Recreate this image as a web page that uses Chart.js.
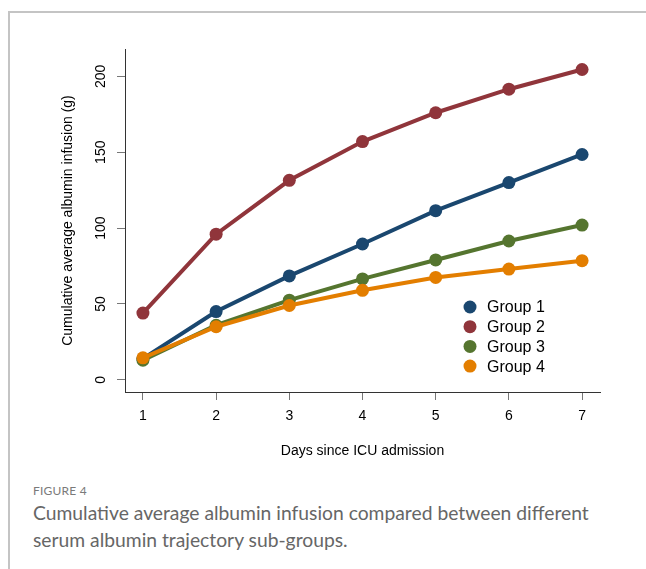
<!DOCTYPE html>
<html>
<head>
<meta charset="utf-8">
<script src="https://cdn.jsdelivr.net/npm/chart.js@4.4.1/dist/chart.umd.min.js"></script>
<style>
  body { margin: 0; background: #fff; width: 646px; height: 569px; overflow: hidden; position: relative; }
  #frame { position: absolute; left: 8px; top: 11px; right: -4px; bottom: -4px; border-top: 2px solid #c4c4c4; border-left: 2px solid #c4c4c4; }
  #wrap { position: absolute; left: 0; top: 0; width: 646px; height: 470px; }
  #fig { position: absolute; left: 33px; top: 483px; font-family: Lato, "Open Sans", sans-serif; font-size: 12px; color: #7a7a7a; letter-spacing: 0.2px; }
  #cap { position: absolute; left: 33px; top: 499px; width: 575px; font-family: Lato, "Open Sans", sans-serif; font-size: 19.3px; line-height: 27px; color: #666; }
</style>
</head>
<body>
<div id="frame"></div>
<div id="wrap"><canvas id="chart" width="646" height="470"></canvas></div>
<div id="fig">FIGURE 4</div>
<div id="cap">Cumulative average albumin infusion compared between different serum albumin trajectory sub-groups.</div>
<script>
var days = [1, 2, 3, 4, 5, 6, 7];
var yTicks = [0, 50, 100, 150, 200];
var groupNames = ['Group 1', 'Group 2', 'Group 3', 'Group 4'];
var group1 = [14, 45, 68.5, 89.5, 111.5, 130, 148.5];
var group2 = [44, 96, 131.5, 157, 176, 191.5, 204.5];
var group3 = [13, 36, 52.5, 66.5, 79, 91.5, 102];
var group4 = [14.5, 35, 49, 59, 67.5, 73, 78.5];
var colors = ['#1a476f', '#90353b', '#55752f', '#e37e00'];

var series = [group1, group2, group3, group4];

function toPoints(vals) {
    return vals.map(function(v, i) { return {x: days[i], y: v}; });
}

var datasets = series.map(function(vals, i) {
    return {
        label: groupNames[i],
        data: toPoints(vals),
        borderColor: colors[i],
        backgroundColor: colors[i],
        pointBackgroundColor: colors[i],
        pointBorderWidth: 0,
        pointRadius: 6.5,
        borderWidth: 4,
        tension: 0,
        order: 4 - i
    };
});

var font = 'Liberation Sans, Arial, sans-serif';

// y tick labels are drawn rotated, legend sits inside the plot
var extras = {
    id: 'extras',
    afterDraw: function(chart) {
        var ctx = chart.ctx;
        var ys = chart.scales.y;
        var area = chart.chartArea;
        ctx.save();
        ctx.fillStyle = '#000';
        ctx.font = '14px ' + font;
        ctx.textAlign = 'center';
        ctx.textBaseline = 'middle';
        yTicks.forEach(function(v) {
            var py = ys.getPixelForValue(v);
            ctx.save();
            ctx.translate(area.left - 24, py);
            ctx.rotate(-Math.PI / 2);
            ctx.fillText(String(v), 0, 0);
            ctx.restore();
        });

        // legend
        var lx = area.left + 345, ly = area.top + 258;
        ctx.font = '16px ' + font;
        ctx.textAlign = 'left';
        groupNames.forEach(function(name, i) {
            var y = ly + i * 19.7;
            ctx.fillStyle = colors[i];
            ctx.beginPath();
            ctx.arc(lx, y, 6.5, 0, Math.PI * 2);
            ctx.fill();
            ctx.fillStyle = '#000';
            ctx.fillText(name, lx + 17, y + 1);
        });
        ctx.restore();
    }
};

new Chart(document.getElementById('chart'), {
    type: 'line',
    data: { datasets: datasets },
    plugins: [extras],
    options: {
        responsive: false,
        animation: false,
        layout: { padding: { left: 0, top: 49, right: 46, bottom: 0 } },
        plugins: { legend: { display: false }, tooltip: { enabled: false } },
        scales: {
            x: {
                type: 'linear',
                min: 0.755,
                max: 7.245,
                afterBuildTicks: function(s) { s.ticks = days.map(function(d) { return {value: d}; }); },
                afterFit: function(s) { s.height = 78; },
                grid: { drawOnChartArea: false, drawTicks: true, tickLength: 8, color: '#777' },
                border: { display: true, color: '#333', width: 1 },
                ticks: { color: '#000', font: { family: font, size: 14 }, padding: 8, maxRotation: 0 },
                title: { display: true, text: 'Days since ICU admission', color: '#000',
                         font: { family: font, size: 14 }, padding: { top: 0, bottom: 10.6 } }
            },
            y: {
                type: 'linear',
                min: -8,
                max: 218,
                afterBuildTicks: function(s) { s.ticks = yTicks.map(function(v) { return {value: v}; }); },
                afterFit: function(s) { s.width = 125; },
                grid: { drawOnChartArea: false, drawTicks: true, tickLength: 8, color: '#777' },
                border: { display: true, color: '#333', width: 1 },
                ticks: { display: false },
                title: { display: true, text: 'Cumulative average albumin infusion (g)', color: '#000',
                         font: { family: font, size: 14 }, padding: { top: 59.6, bottom: 0 } }
            }
        }
    }
});
</script>
</body>
</html>
